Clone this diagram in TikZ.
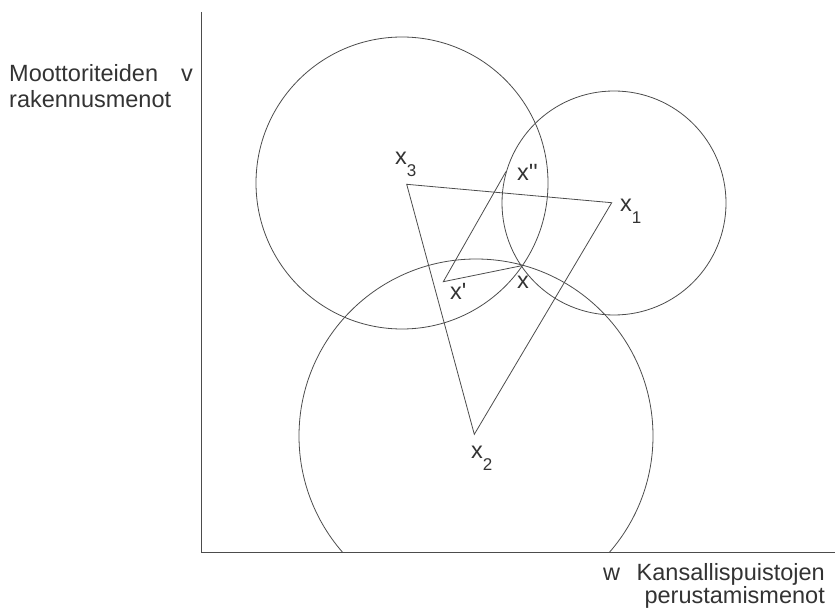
\documentclass[tikz,border=0pt]{standalone}
\usepackage{fontspec}
\setmainfont{Liberation Sans}
\newcommand{\alaindeksi}[1]{\raisebox{-12pt}{\fontsize{17}{17}\selectfont #1}}
\begin{document}
\begin{tikzpicture}[x=1pt, y=-1pt,
    viiva/.style={line width=0.8pt, black!70},
    nimi/.style={inner sep=0pt, anchor=base west, text=black!80, font=\fontsize{23.5}{26}\selectfont}]
    \useasboundingbox (0,0) rectangle (837,609);

    % Akselit
    \coordinate (origo) at (201,552);
    \coordinate (vkarki) at (201,12);
    \coordinate (wkarki) at (835,552);
    \draw[viiva] (vkarki) -- (origo) -- (wkarki);

    % Ihannepisteet ja kompromissipisteet
    \coordinate (x1) at (611.7,202.7);
    \coordinate (x2) at (474.3,434.3);
    \coordinate (x3) at (406.7,184.3);
    \coordinate (x) at (521.7,265.7);
    \coordinate (xp) at (443.3,281.7);
    \coordinate (xpp) at (506,171.5);

    % Ympyrat (alin leikataan akselilla)
    \draw[viiva] (402,183) circle (146);
    \draw[viiva] (614,203) circle (112);
    \begin{scope}
        \clip (0,0) rectangle (837,552);
        \draw[viiva] (476,436) circle (177);
    \end{scope}

    % Kolmiot
    \draw[viiva] (x3) -- (x1) -- (x2) -- cycle;
    \draw[viiva] (xpp) -- (xp) -- (x);

    % Nimiot
    \node[nimi] (lx3) at (395,165) {x\alaindeksi{3}};
    \node[nimi] (lx1) at (620,212) {x\alaindeksi{1}};
    \node[nimi] (lx2) at (471,458) {x\alaindeksi{2}};
    \node[nimi] (lxpp) at (517,181) {x\textquotesingle\textquotesingle};
    \node[nimi] (lxp) at (450,300) {x\textquotesingle};
    \node[nimi] (lx) at (517,289) {x};

    \node[nimi] (lv) at (181,82) {v};
    \node[nimi] (vnimi1) at (9,82) {Moottoriteiden};
    \node[nimi] (vnimi2) at (9,108) {rakennusmenot};

    \node[nimi] (lw) at (603,580) {w};
    \node[nimi, anchor=base east] (wnimi1) at (825,580) {Kansallispuistojen};
    \node[nimi, anchor=base east] (wnimi2) at (825,603) {perustamismenot};

\end{tikzpicture}
\end{document}
